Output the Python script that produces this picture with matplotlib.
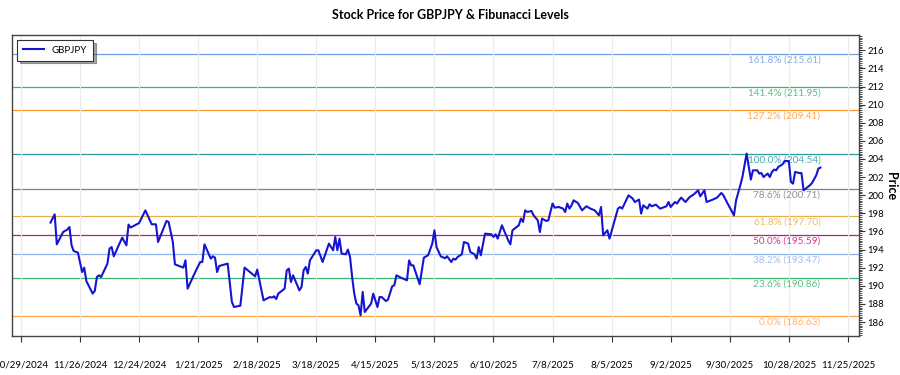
import matplotlib
matplotlib.use("Agg")
import matplotlib.pyplot as plt
import matplotlib.dates as mdates
from matplotlib.ticker import MultipleLocator, FixedLocator, FuncFormatter
import pandas as pd

plt.rcParams['font.family'] = ['Lato', 'DejaVu Sans']

# ---- data ----
base_date = "2024-10-29"
day_offset = [14, 16, 17, 20, 22, 23, 24, 25, 27, 29, 30, 31, 34, 35, 36, 37, 38, 41, 42, 43,
              44, 48, 50, 51, 52, 56, 59, 62, 64, 65, 69, 70, 72, 73, 77, 78, 79, 83, 85, 86,
              87, 90, 91, 92, 93, 94, 98, 100, 101, 104, 106, 108, 111, 112, 115, 118, 119, 120, 121, 122,
              125, 126, 127, 128, 129, 131, 132, 133, 134, 135, 136, 137, 140, 141, 143, 146, 148, 149, 150, 151,
              152, 154, 155, 156, 157, 158, 159, 160, 161, 162, 163, 166, 167, 169, 170, 171, 173, 174, 176, 177,
              178, 180, 183, 184, 185, 186, 189, 191, 193, 195, 196, 197, 199, 201, 202, 204, 205, 206, 207, 209,
              210, 212, 213, 215, 216, 217, 218, 220, 223, 224, 225, 226, 228, 229, 231, 232, 233, 236, 237, 238,
              239, 240, 242, 243, 245, 246, 247, 249, 250, 252, 253, 255, 257, 258, 259, 260, 261, 262, 264, 266,
              268, 270, 272, 274, 275, 276, 278, 279, 281, 283, 284, 285, 288, 290, 291, 293, 294, 295, 297, 298,
              299, 301, 303, 305, 306, 307, 308, 310, 311, 312, 313, 315, 317, 319, 321, 322, 324, 325, 328, 330,
              331, 332, 333, 335, 338, 339, 341, 342, 344, 346, 347, 349, 350, 351, 352, 354, 355, 356, 357, 358,
              359, 361, 362, 364, 365, 366, 367, 369, 370, 371, 373, 374, 375, 377, 378, 379]
price = [196.98, 197.89, 194.58, 195.94, 196.21, 196.49, 194.47, 193.84, 193.67, 191.52,
         192.01, 190.53, 189.14, 189.43, 190.97, 191.16, 190.97, 192.45, 194.11, 194.28,
         193.26, 195.32, 194.47, 196.76, 196.43, 196.93, 198.33, 196.79, 196.79, 194.84,
         197.16, 197.05, 194.84, 192.37, 192.01, 192.82, 189.69, 191.71, 192.63, 192.63,
         194.58, 193.00, 193.26, 193.11, 191.52, 192.19, 192.45, 188.21, 187.66, 187.81,
         192.01, 191.63, 191.05, 191.79, 188.40, 188.76, 188.70, 188.84, 188.54, 189.14,
         189.69, 191.71, 191.90, 190.42, 191.16, 190.06, 189.50, 189.87, 191.71, 192.08,
         191.35, 192.81, 193.92, 193.92, 192.63, 194.66, 193.92, 195.39, 193.92, 195.21,
         193.56, 193.48, 194.00, 193.18, 190.97, 189.14, 188.04, 187.85, 186.74, 189.32,
         187.11, 188.04, 189.14, 187.66, 188.76, 188.76, 188.32, 188.48, 189.95, 190.06,
         191.16, 190.91, 190.61, 192.81, 192.26, 192.26, 190.17, 193.11, 193.37, 194.66,
         196.13, 194.28, 193.26, 193.04, 193.26, 192.63, 193.00, 192.89, 193.18, 193.48,
         194.84, 194.66, 193.73, 193.48, 193.00, 194.28, 193.37, 195.76, 195.69, 195.39,
         195.69, 195.21, 196.68, 196.13, 195.02, 194.58, 196.13, 196.68, 197.42, 197.05,
         198.33, 198.15, 198.26, 197.78, 197.23, 195.94, 197.42, 197.16, 197.23, 199.08,
         198.63, 198.70, 198.52, 198.15, 199.08, 198.52, 198.89, 199.44, 199.14, 198.33,
         198.78, 198.52, 198.33, 197.78, 198.70, 195.58, 196.13, 195.21, 196.87, 198.52,
         198.70, 198.52, 199.99, 199.63, 199.25, 199.52, 197.97, 198.89, 198.52, 199.00,
         198.78, 198.96, 198.52, 198.70, 198.78, 199.25, 198.70, 199.25, 199.08, 199.44,
         199.74, 199.25, 199.80, 200.10, 200.54, 199.88, 200.54, 199.25, 199.52, 199.74,
         199.99, 200.25, 199.99, 199.08, 197.78, 199.44, 201.10, 202.01, 204.60, 201.73,
         202.75, 202.75, 202.39, 202.45, 202.01, 202.39, 202.01, 202.57, 202.83, 202.75,
         203.12, 203.41, 203.78, 203.78, 201.46, 201.28, 202.57, 202.45, 202.45, 200.54,
         200.91, 201.10, 201.35, 202.20, 202.94, 203.05]

fib_pct = ["0.0%", "23.6%", "38.2%", "50.0%", "61.8%", "78.6%", "100.0%", "127.2%", "141.4%", "161.8%"]
fib_val = [186.63, 190.86, 193.47, 195.59, 197.70, 200.71, 204.54, 209.41, 211.95, 215.61]
fib_col = ["#ffa64d", "#3cb371", "#8fb4ec", "#c71585", "#e8b04a", "#808080", "#2e9a9a",
           "#ff9a30", "#3cb371", "#6f9fe0"]

x_tick_dates = ["2024-10-29", "2024-11-26", "2024-12-24", "2025-01-21", "2025-02-18",
                "2025-03-18", "2025-04-15", "2025-05-13", "2025-06-10", "2025-07-08",
                "2025-08-05", "2025-09-02", "2025-09-30", "2025-10-28", "2025-11-25"]
y_ticks = [186, 188, 190, 192, 194, 196, 198, 200, 202, 204, 206, 208, 210, 212, 214, 216]

dates = pd.to_datetime(base_date) + pd.to_timedelta(day_offset, unit="D")

# ---- figure ----
fig = plt.figure(figsize=(9, 3.75), dpi=100)
ax = fig.add_axes([0.0133, 0.104, 0.9411, 0.8027])

ax.plot(dates, price, color="#1515d0", lw=1.5, label="GBPJPY", zorder=3)

for pct, val, col in zip(fib_pct, fib_val, fib_col):
    ax.axhline(val, color=col, lw=0.9, zorder=1)
    ax.text(dates[-1], val - 0.15, f"{pct} ({val:.2f})", ha="right", va="top",
            fontsize=7.2, color=col, alpha=0.85, zorder=2)

ax.set_ylim(184.46, 217.69)
ax.margins(x=0.05)

xt = pd.to_datetime(x_tick_dates)
ax.xaxis.set_major_locator(FixedLocator(mdates.date2num(xt)))
ax.xaxis.set_major_formatter(FuncFormatter(
    lambda v, p: (lambda d: f"{d.month}/{d.day}/{d.year}")(mdates.num2date(v))))
ax.tick_params(axis="x", labelsize=7, pad=14, length=4, color="#333333")
ax.grid(axis="x", color="#ebebeb", lw=0.8)

ax.yaxis.tick_right()
ax.set_yticks(y_ticks)
ax.yaxis.set_minor_locator(MultipleLocator(0.2))
ax.tick_params(axis="y", which="major", labelsize=6.8, length=4, pad=2, color="#333333")
ax.tick_params(axis="y", which="minor", length=2, width=0.6, color="#333333")
fig.text(0.9905, 0.505, "Price", rotation=270, ha="center", va="center",
         fontsize=9, fontweight="bold")

for s in ax.spines.values():
    s.set_color("#444444")
    s.set_linewidth(1.0)

leg = ax.legend(loc="upper left", fontsize=7, frameon=True, fancybox=False,
                shadow=True, borderpad=0.6, handlelength=2.2)
leg.get_frame().set_edgecolor("#333333")
leg.get_frame().set_linewidth(0.8)

fig.suptitle("Stock Price for GBPJPY & Fibunacci Levels", fontsize=9, fontweight="bold", y=0.975)

fig.savefig("out.png", dpi=100)
